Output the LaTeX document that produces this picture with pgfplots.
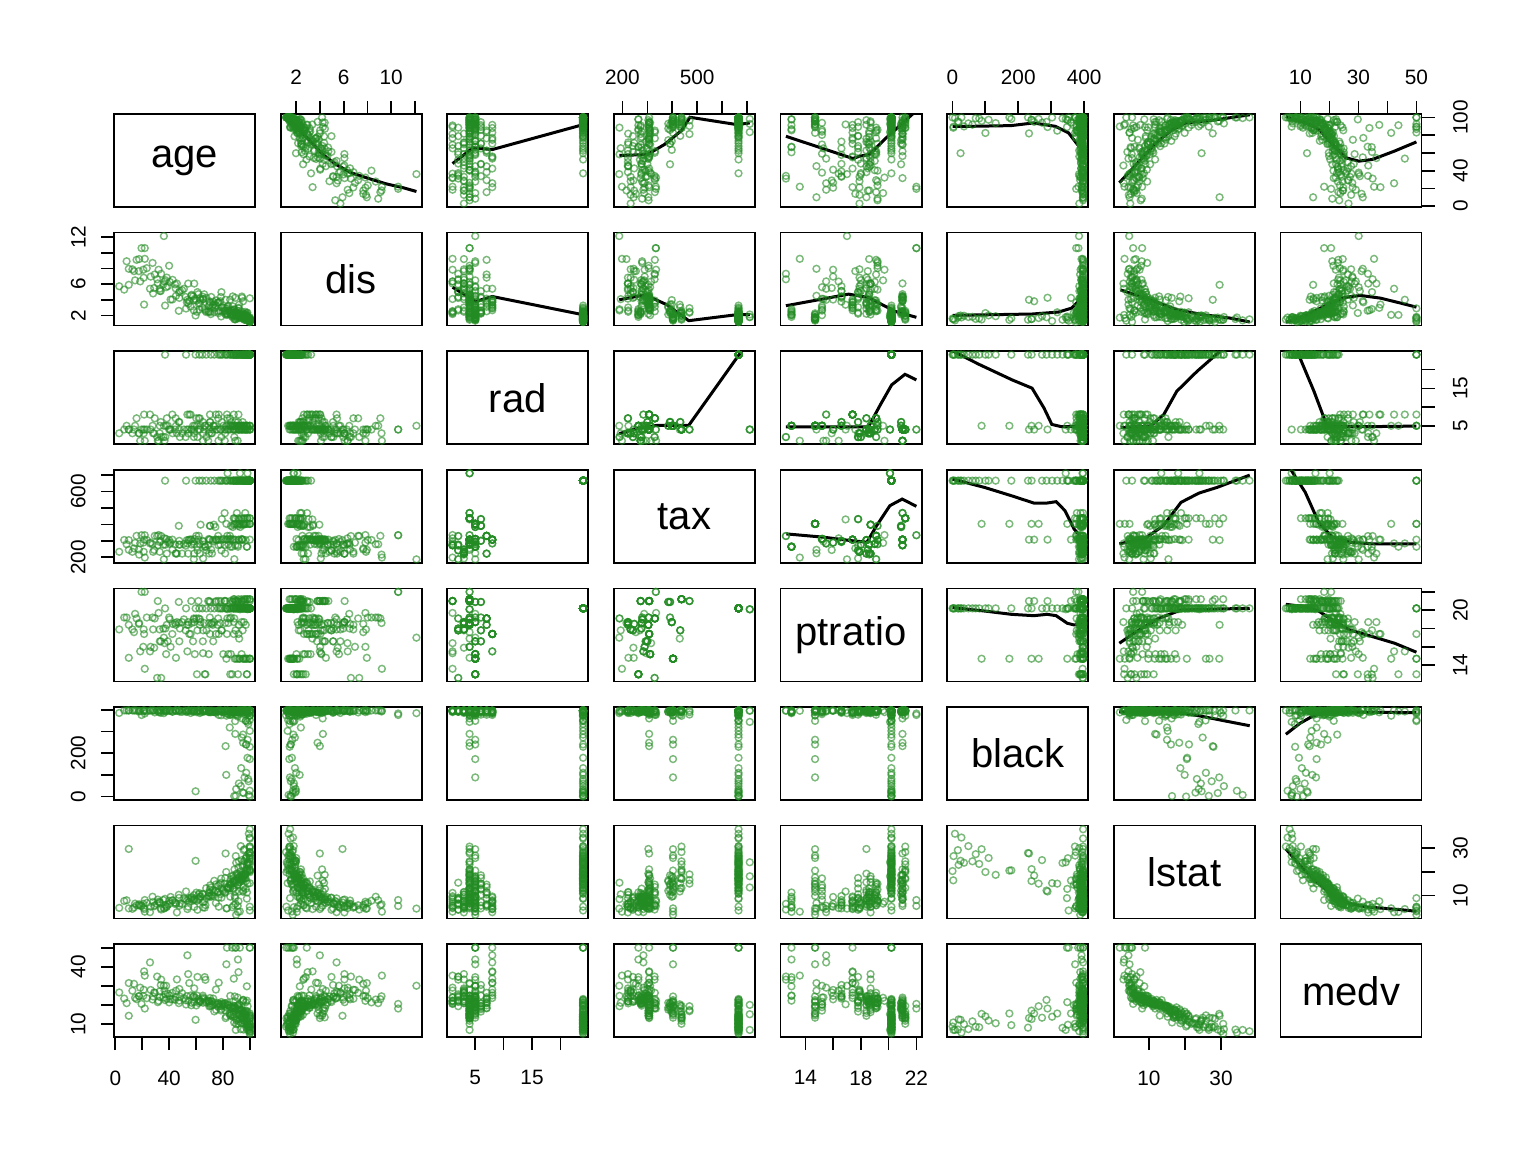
\documentclass[border=0pt]{standalone}
\usepackage{fontspec}
\setmainfont{Liberation Sans}
\usepackage{pgfplots}
\usepackage{pgfplotstable}
\pgfplotsset{compat=1.18}
\definecolor{pgreen}{RGB}{34,139,34}
\makeatletter
\pgfdeclareplotmark{fo}{%
 \pgfpointtransformed{\pgfpointorigin}%
 \pgf@xa=0.99626\pgf@x \pgf@ya=0.99626\pgf@y
 \pgfsysprotocol@literal{q 1 0 0 1 \pgf@sys@tonumber\pgf@xa\space\pgf@sys@tonumber\pgf@ya\space cm 1.7 0 m 1.2 1.2 l 0 1.7 l -1.2 1.2 l -1.7 0 l -1.2 -1.2 l 0 -1.7 l 1.2 -1.2 l h S Q}}
\makeatother
\newcommand\tl{\fontsize{10.4}{12}\selectfont}
\newcommand\dg{\fontsize{20}{24}\selectfont}
\def\mnage{-0.98}\def\mxage{103.88}
\def\mndis{0.69}\def\mxdis{12.57}
\def\mnrad{0.08}\def\mxrad{24.92}
\def\mntax{166}\def\mxtax{732}
\def\mnptratio{12.22}\def\mxptratio{22.38}
\def\mnblack{-15.54}\def\mxblack{412.76}
\def\mnlstat{0.28}\def\mxlstat{39.42}
\def\mnmedv{3.2}\def\mxmedv{51.8}
\pgfplotstableread{
age dis rad tax ptratio black lstat medv
100 1.18 24 666 20.2 396.9 19.8 13.1
100 1.25 24 666 20.2 396.9 23.2 10.4
96.0 1.43 24 666 20.2 396.9 19.0 11.7
100 1.41 24 666 20.2 372.9 26.8 8.3
97.9 1.35 24 666 20.2 385.1 22.7 10.2
100 1.47 24 666 20.2 396.9 30.6 5.0
89.6 1.52 24 666 20.2 3.5 26.6 7.0
100 1.59 24 666 20.2 0.3 20.3 8.8
95.4 1.72 24 666 20.2 16.5 29.1 7.2
91.9 1.81 24 666 20.2 60.7 24.4 11.5
98.8 1.62 24 666 20.2 81.3 23.3 8.4
93.6 1.89 24 666 20.2 131.4 18.7 10.5
100 1.73 24 666 20.2 27.3 34.4 5.6
87.9 2.09 24 666 20.2 396.9 17.3 14.9
76.5 2.52 24 666 20.2 393.1 14.1 19.1
67.6 2.42 24 666 20.2 395.6 13.1 21.4
88.0 1.93 24 666 20.2 391.3 16.0 16.1
92.6 2.05 24 666 20.2 395.3 15.7 17.8
96.2 2.17 24 666 20.2 396.9 17.6 13.8
71.0 2.16 24 666 20.2 388.5 13.4 19.9
85.1 2.39 24 666 20.2 318.4 15.0 15.6
100 1.49 24 666 20.2 396.9 37.9 6.3
97.3 1.55 24 666 20.2 240.5 21.1 12.7
94.1 1.89 24 666 20.2 272.2 24.9 13.4
100 1.14 24 666 20.2 374.7 28.3 8.8
89.1 1.48 24 666 20.2 347.9 8.9 50.0
100 1.17 24 666 20.2 396.9 5.3 50.0
82.5 2.29 24 666 20.2 100.2 19.9 14.1
59.7 1.98 24 666 20.2 24.7 24.6 12.3
98.3 1.64 24 666 20.2 178.9 20.6 9.5
95.0 1.76 24 666 20.2 285.8 12.1 22.7
78.7 1.86 24 666 20.2 374.7 17.1 17.9
37.0 3.25 24 666 20.2 396.9 8.6 22.6
52.6 2.87 24 666 20.2 390.2 11.7 20.3
99.3 1.36 24 666 20.2 7.7 36.0 7.0
93.3 1.79 24 666 20.2 48.5 30.8 7.4
97.4 2.00 24 666 20.2 109.9 25.8 11.9
88.4 1.52 24 666 20.2 2.6 16.4 10.9
64.7 3.00 24 666 20.2 396.9 10.7 23.2
100 1.32 24 666 20.2 353.0 3.7 50.0
100 1.39 24 666 20.2 396.9 25.2 8.5
94.7 1.67 24 666 20.2 393.3 22.1 10.8
86.5 1.98 24 666 20.2 380.0 18.1 15.0
99.1 1.54 24 666 20.2 70.8 27.4 8.7
77.8 2.60 24 666 20.2 396.9 14.8 19.5
91.1 2.33 24 666 20.2 368.7 14.5 20.0
100 1.26 24 666 20.2 396.9 20.8 11.8
96.9 1.60 24 666 20.2 396.9 17.2 14.3
90.7 1.82 24 666 20.2 395.7 19.3 12.6
100 1.39 24 666 20.2 385.2 30.0 6.3
87.6 2.07 24 666 20.2 392.7 18.3 13.8
98.9 1.44 24 666 20.2 334.4 23.7 8.1
73.6 2.40 24 666 20.2 394.9 16.2 16.7
94.8 1.91 24 666 20.2 18.8 22.9 12.5
100 1.28 24 666 20.2 302.8 15.2 13.9
83.4 2.25 24 666 20.2 396.9 12.9 21.2
97.1 1.70 24 666 20.2 350.7 25.7 9.7
81.8 2.15 24 666 20.2 390.9 17.4 17.2
100 1.53 24 666 20.2 396.9 34.0 7.2
91.5 1.87 24 666 20.2 386.3 21.8 10.2
95.3 1.58 24 666 20.2 396.9 16.9 13.3
100 1.21 24 666 20.2 391.4 24.1 9.6
90.0 2.01 24 666 20.2 389.0 19.0 12.1
97.5 1.65 24 666 20.2 396.9 26.4 8.0
85.7 2.20 24 666 20.2 376.8 16.8 14.6
98.0 1.40 24 666 20.2 396.9 21.2 11.0
79.8 2.47 24 666 20.2 393.4 12.3 20.8
93.0 1.76 24 666 20.2 395.1 20.1 12.8
100 1.45 24 666 20.2 229.6 27.9 8.2
89.9 1.95 24 666 20.2 35.1 23.8 10.0
62.5 2.75 24 666 20.2 396.9 11.0 22.0
96.4 1.85 24 666 20.2 394.9 18.9 15.1
100 1.32 5 403 14.7 396.9 26.8 13.4
96.1 1.47 5 403 14.7 88.6 29.5 15.4
97.3 1.52 5 403 14.7 240.2 16.1 17.1
92.6 1.64 5 403 14.7 396.9 3.3 50.0
89.8 1.71 5 403 14.7 388.1 1.9 50.0
100 1.42 5 403 14.7 173.0 20.5 15.6
94.9 1.75 5 403 14.7 395.1 11.6 21.9
82.6 2.06 5 403 14.7 372.8 4.6 41.3
98.4 1.66 5 403 14.7 261.9 15.0 19.4
88.8 2.26 5 403 14.7 396.9 9.8 24.5
100 1.51 5 403 14.7 396.9 25.8 14.6
91.0 1.62 5 403 14.7 376.2 14.6 19.6
97.0 1.85 5 403 14.7 348.9 12.8 21.5
92.2 2.10 5 403 14.7 390.6 17.6 18.8
95.2 1.78 5 403 14.7 396.9 13.5 22.6
96.7 2.00 4 437 21.2 396.9 20.3 15.2
100 1.68 4 437 21.2 394.7 28.3 12.8
93.8 1.87 4 437 21.2 396.9 16.9 13.6
98.2 2.35 4 437 21.2 396.9 19.9 16.6
88.0 2.23 4 437 21.2 392.3 13.2 19.6
100 1.44 4 437 21.2 372.1 30.6 10.2
88.6 2.40 4 437 21.2 388.1 21.0 14.0
95.7 1.96 4 437 21.2 396.9 24.4 11.8
98.0 1.55 4 437 21.2 393.2 23.1 13.1
91.5 2.56 4 437 21.2 396.9 17.3 14.9
56.5 4.50 4 307 21.0 395.6 8.5 19.9
85.4 4.01 4 307 21.0 396.9 13.0 14.5
94.1 4.40 4 307 21.0 396.9 18.7 13.6
100 4.18 4 307 21.0 387.0 21.0 14.5
82.0 3.99 4 307 21.0 232.6 27.7 13.2
61.8 4.71 4 307 21.0 396.9 8.3 23.1
89.2 4.25 4 307 21.0 288.9 11.7 18.2
95.0 3.80 4 307 21.0 248.3 18.4 15.6
94.3 4.23 4 307 21.0 360.2 16.3 15.6
87.3 4.42 4 307 21.0 396.9 12.8 18.4
75.0 3.91 4 307 21.0 393.5 14.7 17.5
78.5 4.35 4 307 21.0 390.9 15.3 17.2
69.9 3.80 4 307 21.0 396.9 11.1 19.3
92.7 1.82 4 711 20.1 395.1 18.1 15.2
98.3 1.76 4 711 20.1 344.1 24.0 7.0
83.5 2.11 4 711 20.1 396.9 13.4 20.1
91.3 2.30 6 391 20.9 394.3 18.5 17.8
47.2 2.58 6 391 20.9 396.9 10.3 21.0
70.6 2.42 6 391 20.9 392.0 14.3 19.5
74.4 2.98 5 384 20.9 389.6 12.0 21.2
92.9 2.12 5 384 20.9 394.7 16.4 17.6
87.4 3.15 5 384 20.9 390.3 15.9 18.7
83.0 2.89 8 307 17.4 382.0 4.6 50.0
76.9 3.67 8 307 17.4 376.1 5.3 31.7
21.4 3.38 8 307 17.4 396.9 4.3 37.6
56.0 3.12 8 307 17.4 385.4 9.1 25.0
91.6 2.96 8 307 17.4 388.4 7.6 37.2
42.4 4.03 8 307 17.4 391.5 8.0 26.4
70.4 3.65 8 307 17.4 390.7 9.6 23.7
55.0 3.83 8 307 17.4 396.9 7.4 31.5
74.8 3.27 8 307 17.4 386.3 6.9 28.1
88.1 2.65 8 307 17.4 389.1 5.9 33.8
86.9 1.80 5 264 13.0 389.7 5.1 50.0
91.2 2.05 5 264 13.0 392.4 3.1 43.8
67.0 2.60 5 264 13.0 396.9 6.0 33.2
97.8 2.30 5 264 13.0 388.4 8.7 29.8
60.7 2.46 5 264 13.0 396.9 7.8 25.0
97.9 2.01 5 264 13.0 384.2 11.3 22.3
66.5 2.80 5 264 13.0 393.0 4.9 34.6
85.5 2.12 5 264 13.0 387.4 9.5 24.8
78.9 4.97 2 242 17.8 396.9 9.1 21.6
61.1 4.97 2 242 17.8 392.8 4.0 34.7
67.8 4.22 2 242 17.8 394.9 8.9 22.1
45.8 6.06 3 222 18.7 394.6 2.9 33.4
54.2 6.06 3 222 18.7 396.9 5.3 36.2
58.7 6.06 3 222 18.7 394.1 5.2 28.7
49.7 5.22 3 222 18.7 390.6 6.4 26.2
33.0 5.40 3 233 17.9 396.9 7.2 27.1
21.1 6.81 3 233 17.9 393.2 4.9 28.0
12.7 7.88 3 233 17.9 396.9 4.4 27.5
48.0 5.13 2 276 18.0 390.9 6.7 24.4
37.2 6.50 2 276 18.0 391.8 6.0 25.6
71.3 4.35 3 247 18.5 393.7 9.5 22.0
17.5 7.65 3 247 18.5 395.6 5.9 24.7
35.7 5.96 2 276 18.0 396.9 8.1 23.9
65.3 4.07 3 193 17.8 390.5 10.5 21.2
52.3 4.36 2 270 17.8 396.9 8.5 22.5
28.1 4.80 3 233 17.9 396.9 7.3 24.5
42.6 6.54 3 247 18.5 391.1 7.9 23.0
65.2 4.09 1 296 15.3 396.9 5.0 24.0
69.1 2.48 1 273 21.0 392.0 9.7 22.4
76.7 2.29 1 273 21.0 396.9 9.1 20.6
91.0 2.17 1 273 21.0 396.9 5.6 23.9
89.3 2.39 1 273 21.0 393.5 6.5 22.0
31.6 6.08 1 273 21.0 396.9 8.3 21.5
81.4 2.55 1 273 21.0 394.2 11.1 20.8
36.6 6.32 1 315 16.4 396.9 4.7 27.6
21.9 9.22 1 198 13.6 395.5 3.2 35.4
32.2 7.83 1 335 19.7 389.3 7.4 22.2
18.5 6.34 1 284 15.5 394.9 5.7 29.1
36.1 12.13 5 187 17.0 384.5 4.5 30.1
21.9 10.59 4 334 22.0 382.8 8.1 18.2
19.5 10.59 4 334 22.0 376.0 5.6 20.6
13.9 7.65 4 254 17.6 396.9 5.0 31.1
6.6 5.29 4 305 19.2 396.9 7.7 23.4
23.4 8.03 4 305 19.2 392.6 6.9 23.6
2.9 5.72 3 233 17.9 385.4 4.8 26.6
15.8 9.09 7 330 19.1 396.9 5.9 23.1
27.7 8.70 5 279 19.2 396.9 9.5 22.9
8.4 8.91 5 279 19.2 396.9 8.0 21.0
14.7 6.47 5 287 19.6 396.9 6.6 23.8
34.1 7.31 2 329 12.6 396.9 4.1 33.3
31.1 6.61 2 329 12.6 395.2 6.5 34.9
20.8 7.83 4 289 16.0 396.9 6.5 24.8
41.1 4.02 4 289 16.0 395.2 9.4 23.0
26.3 6.95 4 289 16.0 396.9 5.3 27.9
40.5 6.27 4 281 19.0 396.9 6.6 25.0
51.0 5.40 4 281 19.0 396.9 8.8 23.6
58.5 3.95 4 281 19.0 393.9 10.2 21.7
62.9 3.55 4 281 19.0 394.9 9.6 22.6
63.4 3.95 5 398 18.7 389.1 9.5 21.7
73.3 3.42 5 398 18.7 391.3 11.5 20.4
88.2 2.69 5 398 18.7 386.8 15.6 18.5
95.6 2.11 5 398 18.7 395.6 18.1 16.3
94.0 2.46 5 398 18.7 384.0 17.0 17.5
47.6 4.23 6 300 16.6 396.9 5.7 28.4
33.8 5.10 6 300 16.6 385.7 4.6 30.5
65.1 4.38 6 300 16.6 396.9 7.2 24.9
33.1 5.12 5 293 16.6 390.0 6.9 24.2
39.0 5.72 5 293 16.6 396.9 6.1 26.0
60.2 3.88 7 330 19.1 389.4 11.2 19.8
85.2 2.52 7 330 19.1 377.1 14.6 18.3
76.5 3.65 7 330 19.1 395.7 11.5 21.0
62.0 3.50 7 330 19.1 396.9 10.4 21.1
83.3 3.10 7 330 19.1 393.2 13.6 18.5
79.2 3.04 6 432 17.8 391.7 13.0 19.6
94.7 2.21 6 432 17.8 387.6 17.4 16.6
89.4 2.36 6 432 17.8 377.7 15.1 18.4
70.3 3.39 6 391 19.2 394.6 12.5 20.8
86.0 2.60 6 391 19.2 392.8 14.9 19.0
91.8 2.88 4 304 18.4 394.1 15.6 17.0
54.4 3.48 4 304 18.4 396.9 8.7 22.2
72.5 3.30 4 304 18.4 391.0 12.3 20.0
97.0 2.20 4 304 18.4 388.5 19.2 15.8
76.0 3.58 4 304 18.4 394.6 11.4 20.2
53.2 3.67 4 304 18.4 393.5 7.9 24.7
37.8 5.60 5 311 15.2 393.4 5.1 30.1
85.9 2.73 5 311 15.2 386.6 14.3 18.9
69.5 3.21 5 311 15.2 390.7 9.9 21.7
93.9 2.02 5 311 15.2 396.9 17.2 17.1
84.0 2.61 5 311 15.2 380.0 13.3 20.2
59.1 4.12 5 311 15.2 395.7 8.2 23.9
80.3 2.99 5 311 15.2 389.2 11.8 20.3
66.1 4.69 4 277 18.6 394.3 7.4 23.3
44.4 5.96 4 277 18.6 396.9 7.0 22.8
78.1 3.80 4 277 18.6 396.9 10.6 20.5
47.4 4.93 4 277 18.6 396.9 9.0 22.3
56.8 4.63 4 277 18.6 396.9 9.3 21.2
84.1 3.18 4 277 18.6 392.0 12.9 19.7
57.8 4.43 5 296 16.6 391.0 8.1 24.3
72.8 3.75 5 296 16.6 390.1 9.8 23.4
45.1 4.50 5 224 14.8 396.9 6.8 27.5
81.7 2.62 3 223 18.6 396.9 11.5 20.9
69.7 2.46 3 223 18.6 388.7 11.3 22.0
71.9 3.00 3 223 18.6 396.9 10.3 21.9
92.1 3.36 4 430 16.9 396.9 11.7 20.4
96.6 2.45 4 469 21.0 378.1 18.9 16.8
81.3 2.92 4 469 21.0 396.9 15.0 19.4
90.4 2.34 4 469 21.0 389.3 16.5 17.4
28.9 5.50 3 244 15.9 396.9 5.5 26.6
38.3 6.82 7 222 18.4 396.9 5.3 23.3
62.8 4.13 7 222 18.4 385.0 8.8 21.9
44.9 5.44 7 222 18.4 396.9 6.3 24.1
25.8 5.40 8 284 15.5 396.9 3.0 42.3
53.6 3.99 8 284 15.5 392.2 4.3 46.0
58.4 2.63 2 188 19.1 396.9 8.5 24.8
88.5 2.78 2 188 19.1 391.2 15.4 19.4
10.0 7.95 4 245 14.8 396.9 4.6 31.5
17.7 9.19 3 216 18.6 392.1 6.3 24.6
40.0 8.34 4 305 19.2 396.9 7.8 21.4
29.3 7.22 7 330 19.1 387.9 5.9 26.4
10.0 5.90 4 304 18.4 396.9 29.6 14.4
}\data
\pgfplotsset{
 base/.style={scale only axis, width=70.5pt, height=46.5pt, anchor=north west,
  xtick=\empty, ytick=\empty, axis line style={line width=0.85pt},
  tick style={line width=0.85pt, black}, major tick length=6.5pt, tick align=outside,
  ticklabel style={font=\tl, inner sep=0pt}, clip=true,
  /pgf/number format/assume math mode=true},
 pan/.style n args={4}{at={(57pt+#1*83.33pt,-57pt-#2*59.3pt)},
  xmin=\csname mn#3\endcsname, xmax=\csname mx#3\endcsname,
  ymin=\csname mn#4\endcsname, ymax=\csname mx#4\endcsname},
 tx/.style 2 args={xtick={#1}, xticklabels={#2}, xtick pos=right, xticklabel pos=right,
  xticklabel style={anchor=south}, xticklabel shift=8pt},
 bx/.style 2 args={xtick={#1}, xticklabels={#2}, xtick pos=left, xticklabel pos=left,
  xticklabel style={anchor=north}, xticklabel shift=10pt},
 ly/.style 2 args={ytick={#1}, yticklabels={#2}, ytick pos=left, yticklabel pos=left,
  yticklabel style={rotate=90, anchor=south}, yticklabel shift=7.5pt},
 ry/.style 2 args={ytick={#1}, yticklabels={#2}, ytick pos=right, yticklabel pos=right,
  yticklabel style={rotate=90, anchor=north}, yticklabel shift=9pt},
 pts/.style={only marks, mark=fo, draw=pgreen, draw opacity=0.6, line width=0.72pt},
 lo/.style={black, line width=1.5pt, no marks},
}
\newcommand\Pn[5]{\begin{axis}[base, pan={#1}{#2}{#3}{#4}, #5]
 \addplot[pts] table[x=#3,y=#4]{\data};
 \end{axis}}
\newcommand\Up[6]{\begin{axis}[base, pan={#1}{#2}{#3}{#4}, #5]
 \addplot[pts] table[x=#3,y=#4]{\data};
 \addplot[lo] coordinates {#6};
 \end{axis}}
\newcommand\Dg[2]{\begin{axis}[base, at={(57pt+#1*83.33pt,-57pt-#1*59.3pt)},
 xmin=0, xmax=1, ymin=0, ymax=1]
 \node at (axis cs:0.5,0.5) {\dg #2};
 \end{axis}}
\begin{document}
\begin{tikzpicture}
\path[use as bounding box] (0,0) rectangle (768pt,-576pt);
% row 0: age
\Dg{0}{age}
\Up{1}{0}{dis}{age}{tx={2,4,6,8,10,12}{2,,6,,10,}}{(1.13,100.5) (2.23,86.3) (3.33,71.3) (4.25,58.2) (5.35,47) (6.63,37.6) (8.1,31.2) (9.56,25.2) (11.03,20.7) (12.13,16.5)}
\Up{2}{0}{rad}{age}{}{(1,48) (4.6,65.7) (8,63.8) (24,91.9)}
\Up{3}{0}{tax}{age}{tx={200,300,400,500,600,700}{200,,,500,,}}{(188,57.1) (300,58.2) (368,69.4) (437,85.2) (471,100.2) (660,91.9) (711,93.8)}
\Up{4}{0}{ptratio}{age}{}{(12.6,78.8) (17.43,53.7) (17.91,56.3) (18.61,58.2) (19.82,76.9) (21.74,104) (22,112)}
\Up{5}{0}{black}{age}{tx={0,100,200,300,400}{0,,200,,400}}{(0.3,90) (57.7,90) (178.5,90.8) (245.6,93.8) (312.8,90) (353,82.5) (380,69.4) (393,64.9) (396.9,65.7)}
\Up{6}{0}{lstat}{age}{}{(1.77,26.4) (6.5,47) (11.47,69.4) (16.44,86.3) (20.17,93.8) (28.9,97.5) (37.97,103)}
\Up{7}{0}{medv}{age}{tx={10,20,30,40,50}{10,,30,,50}, ry={0,20,40,60,80,100}{0,,40,,,100}}{(5,101) (12,93.8) (16.5,86.3) (21.1,69.4) (25.7,54.5) (30.2,50.7) (34.8,52.6) (42.4,62) (50,72.4)}
% row 1: dis
\Pn{0}{1}{age}{dis}{ly={2,4,6,8,10,12}{2,,6,,,12}}
\Dg{1}{dis}
\Up{2}{1}{rad}{dis}{}{(1,5.59) (5.1,3.78) (8,4.41) (24,2.08)}
\Up{3}{1}{tax}{dis}{}{(187,3.99) (291,4.62) (378.6,3.35) (466,1.32) (657.6,2.08) (711,2.08)}
\Up{4}{1}{ptratio}{dis}{}{(12.6,3.23) (14.95,3.99) (17.11,4.71) (18.55,4.28) (20.46,2.51) (22,1.75)}
\Up{5}{1}{black}{dis}{}{(0.3,2.0) (241.9,2.17) (322,2.42) (362.6,2.93) (386.7,3.99) (396.9,3.69)}
\Up{6}{1}{lstat}{dis}{}{(2.12,5.25) (10.4,3.99) (17.7,2.72) (25.1,2.08) (32.4,1.66) (37.97,1.15)}
\Up{7}{1}{medv}{dis}{}{(5.03,1.11) (12.4,2.08) (19.2,3.35) (25,4.28) (30.7,4.54) (37.6,4.2) (44.5,3.57) (50,3.05)}
% row 2: rad
\Pn{0}{2}{age}{rad}{}
\Pn{1}{2}{dis}{rad}{}
\Dg{2}{rad}
\Up{3}{2}{tax}{rad}{}{(187,2.9) (259,4.3) (338.7,5.1) (466,5.1) (711,28.0)}
\Up{4}{2}{ptratio}{rad}{}{(12.6,4.74) (18.55,4.74) (19.41,10.65) (20.22,15.93) (21.18,18.75) (22,17.25)}
\Up{5}{2}{black}{rad}{}{(0.3,25) (81,21.4) (181.6,17.25) (241.9,15.05) (278,9.77) (302,5.36) (332.4,4.74) (382.7,4.92) (396.9,4.3)}
\Up{6}{2}{lstat}{rad}{}{(2.12,4.48) (10.4,4.92) (14.1,8.0) (17.7,14.2) (23.3,19.5) (29.7,24.9) (37.97,31)}
\Up{7}{2}{medv}{rad}{ry={5,10,15,20}{5,,15,}}{(5,33) (8.9,24.9) (14.7,14.2) (19.2,4.92) (30.7,4.74) (50,4.92)}
% row 3: tax
\Pn{0}{3}{age}{tax}{ly={200,300,400,500,600,700}{200,,,,600,}}
\Pn{1}{3}{dis}{tax}{}
\Pn{2}{3}{rad}{tax}{}
\Dg{3}{tax}
\Up{4}{3}{ptratio}{tax}{}{(12.63,342) (15.33,321.7) (17.24,301.5) (18.44,291.4) (19.14,392.5) (20.09,513.7) (20.98,554) (22,509.7)}
\Up{5}{3}{black}{tax}{}{(0.3,675.4) (97.4,624.9) (179,574.4) (247,529.9) (287.8,529.9) (315,538) (342,483.4) (369.4,372) (396.9,307.6)}
\Up{6}{3}{lstat}{tax}{}{(1.77,281.3) (9,315.7) (14,392.5) (18.9,534) (23.9,590.5) (28.9,624.9) (37.97,699.7)}
\Up{7}{3}{medv}{tax}{}{(5,770) (6.75,732) (11.7,594.6) (16.3,412.7) (21,321.7) (27.1,291.4) (34.8,281.3) (50,281.3)}
% row 4: ptratio
\Pn{0}{4}{age}{ptratio}{}
\Pn{1}{4}{dis}{ptratio}{}
\Pn{2}{4}{rad}{ptratio}{}
\Pn{3}{4}{tax}{ptratio}{}
\Dg{4}{ptratio}
\Up{5}{4}{black}{ptratio}{}{(0.3,20.28) (97.4,19.91) (179,19.55) (247,19.4) (287.8,19.55) (315,19.4) (349,18.57) (369.4,18.39) (389.8,18.5) (396.9,18.93)}
\Up{6}{4}{lstat}{ptratio}{}{(1.77,16.39) (6.5,17.66) (12.7,19.11) (18.9,20.02) (28.9,20.13) (37.97,20.2)}
\Up{7}{4}{medv}{ptratio}{ry={14,16,18,20,22}{14,,,20,}}{(5,20.64) (11.7,20.38) (16.3,19.91) (21,18.93) (27.1,17.84) (34.8,17.12) (42.5,16.39) (50,15.41)}
% row 5: black
\Pn{0}{5}{age}{black}{ly={0,100,200,300,400}{0,,200,,}}
\Pn{1}{5}{dis}{black}{}
\Pn{2}{5}{rad}{black}{}
\Pn{3}{5}{tax}{black}{}
\Pn{4}{5}{ptratio}{black}{}
\Dg{5}{black}
\Up{6}{5}{lstat}{black}{}{(1.73,390) (16.7,390) (24,372) (31.4,347.7) (37.97,326.5)}
\Up{7}{5}{medv}{black}{}{(5,287.2) (9.8,337.1) (14.4,372) (19,390) (50,387)}
% row 6: lstat
\Pn{0}{6}{age}{lstat}{}
\Pn{1}{6}{dis}{lstat}{}
\Pn{2}{6}{rad}{lstat}{}
\Pn{3}{6}{tax}{lstat}{}
\Pn{4}{6}{ptratio}{lstat}{}
\Pn{5}{6}{black}{lstat}{}
\Dg{6}{lstat}
\Up{7}{6}{medv}{lstat}{ry={10,20,30}{10,,30}}{(5,29.6) (9.8,22.8) (15.6,15.8) (21.3,10.1) (27,6.6) (32.7,5.2) (44.2,4.08) (50,3.37)}
% row 7: medv
\Pn{0}{7}{age}{medv}{ly={10,20,30,40,50}{10,,,40,}, bx={0,20,40,60,80,100}{0,,40,,80,}}
\Pn{1}{7}{dis}{medv}{}
\Pn{2}{7}{rad}{medv}{bx={5,10,15,20}{5,,15,}}
\Pn{3}{7}{tax}{medv}{}
\Pn{4}{7}{ptratio}{medv}{bx={14,16,18,20,22}{14,,18,,22}}
\Pn{5}{7}{black}{medv}{}
\Pn{6}{7}{lstat}{medv}{bx={10,20,30}{10,,30}}
\Dg{7}{medv}
\end{tikzpicture}
\end{document}
